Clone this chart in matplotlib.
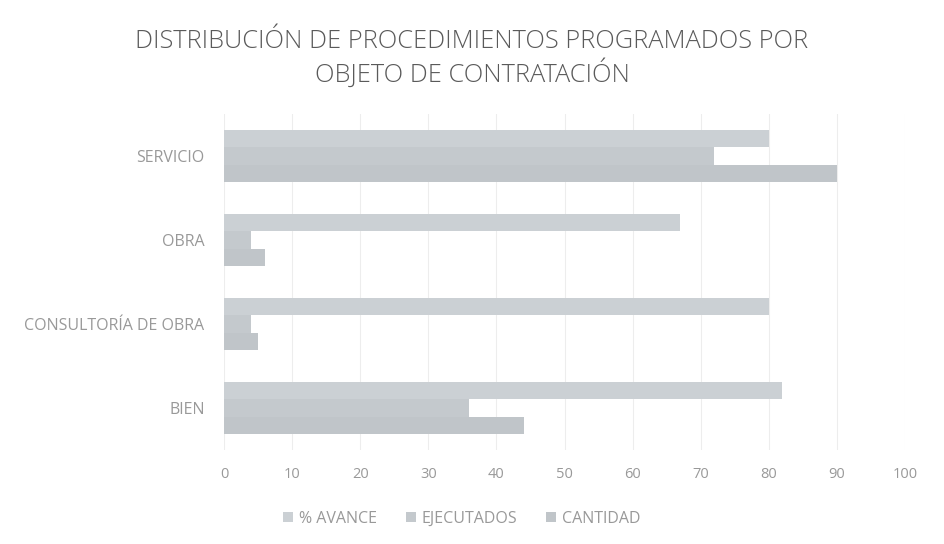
import matplotlib
matplotlib.use("Agg")
import matplotlib.pyplot as plt
import numpy as np

categories = ["BIEN", "CONSULTORÍA DE OBRA", "OBRA", "SERVICIO"]
avance = [82, 80, 67, 80]
ejecutados = [36, 4, 4, 72]
cantidad = [44, 5, 6, 90]
series_names = ["% AVANCE", "EJECUTADOS", "CANTIDAD"]
xticks = list(range(0, 101, 10))

plt.rcParams['font.family'] = ['Open Sans', 'DejaVu Sans']
fig = plt.figure(figsize=(9.44, 5.44), dpi=100)
ax = fig.add_axes([224/944, 1-450/544, (905-224)/944, (450-114)/544])

y = np.arange(len(categories))
h = 0.205
colors = ["#cbd0d4", "#c4c9cd", "#c0c5c9"]
ax.barh(y + h, avance, h, color=colors[0], label=series_names[0], zorder=3)
ax.barh(y, ejecutados, h, color=colors[1], label=series_names[1], zorder=3)
ax.barh(y - h, cantidad, h, color=colors[2], label=series_names[2], zorder=3)

ax.set_xlim(0, 100)
ax.set_ylim(-0.5, len(categories) - 0.5)
ax.set_xticks(xticks)
ax.set_xticklabels([str(t) for t in xticks], color="#999999", fontsize=10.5)
ax.set_yticks(y)
ax.set_yticklabels(categories, color="#999999", fontsize=11.5)
ax.tick_params(length=0, pad=14)
ax.tick_params(axis='x', pad=12)
ax.grid(axis='x', color="#ededed", lw=0.8, zorder=0)
for s in ax.spines.values():
    s.set_visible(False)

fig.text(0.5, 1-42/544, "DISTRIBUCIÓN DE PROCEDIMIENTOS PROGRAMADOS POR", ha="center", va="center",
         fontsize=18.3, color="#5a5a5a", fontweight="light")
fig.text(0.5, 1-73/544, "OBJETO DE CONTRATACIÓN", ha="center", va="center",
         fontsize=18.3, color="#5a5a5a", fontweight="light")

fig.legend(loc="center", bbox_to_anchor=(462/944, 1-519/544), ncol=3, frameon=False,
           fontsize=11.5, labelcolor="#999999", handlelength=0.6, handleheight=0.6,
           columnspacing=1.8, handletextpad=0.4)

fig.savefig("out.png", dpi=100, facecolor="white")
